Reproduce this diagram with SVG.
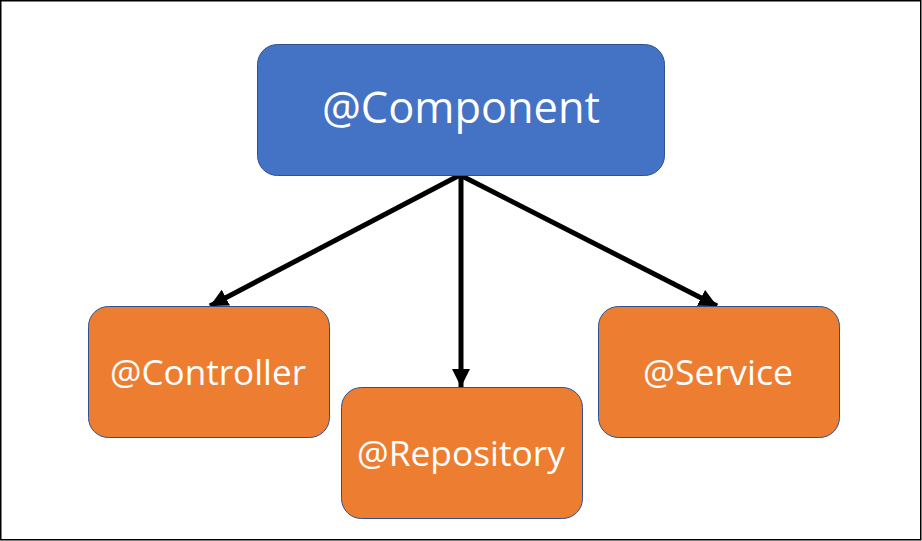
<svg xmlns="http://www.w3.org/2000/svg" width="922" height="541" viewBox="0 0 922 541">
<style>
.frame{fill:#fff;stroke:#000;stroke-width:1.5}
.blue{fill:#4472C4;stroke:#2F528F;stroke-width:1}
.orange{fill:#ED7D31;stroke:#2F528F;stroke-width:1}
.lbl{fill:#fff;font-family:"Open Sans","Liberation Sans",sans-serif;text-anchor:middle}
.conn{stroke:#000;stroke-width:5;fill:none}
</style>
<defs>
<marker id="ah" markerUnits="userSpaceOnUse" markerWidth="18" markerHeight="18" viewBox="0 0 18 18" refX="18" refY="9" orient="auto">
<path d="M0,0 L18,9 L0,18 Z" fill="#000"/>
</marker>
</defs>
<rect class="frame" x="0.75" y="0.75" width="920" height="539"/>
<g id="connectors">
<line class="conn" x1="460" y1="175" x2="210" y2="306" marker-end="url(#ah)"/>
<line class="conn" x1="461" y1="175" x2="461" y2="387" marker-end="url(#ah)"/>
<line class="conn" x1="460" y1="175" x2="717" y2="306" marker-end="url(#ah)"/>
</g>
<g id="component">
<rect class="blue" x="257.5" y="44.5" width="407" height="131" rx="20"/>
<text class="lbl" x="461" y="123" font-size="43" textLength="278" lengthAdjust="spacingAndGlyphs">@Component</text>
</g>
<g id="controller">
<rect class="orange" x="88.5" y="306.5" width="241" height="131" rx="20"/>
<text class="lbl" x="208" y="385" font-size="34" textLength="196" lengthAdjust="spacingAndGlyphs">@Controller</text>
</g>
<g id="repository">
<rect class="orange" x="341.5" y="387.5" width="241" height="131" rx="20"/>
<text class="lbl" x="461" y="466" font-size="34" textLength="208" lengthAdjust="spacingAndGlyphs">@Repository</text>
</g>
<g id="service">
<rect class="orange" x="598.5" y="306.5" width="241" height="131" rx="20"/>
<text class="lbl" x="718" y="385" font-size="34" textLength="150" lengthAdjust="spacingAndGlyphs">@Service</text>
</g>
</svg>
